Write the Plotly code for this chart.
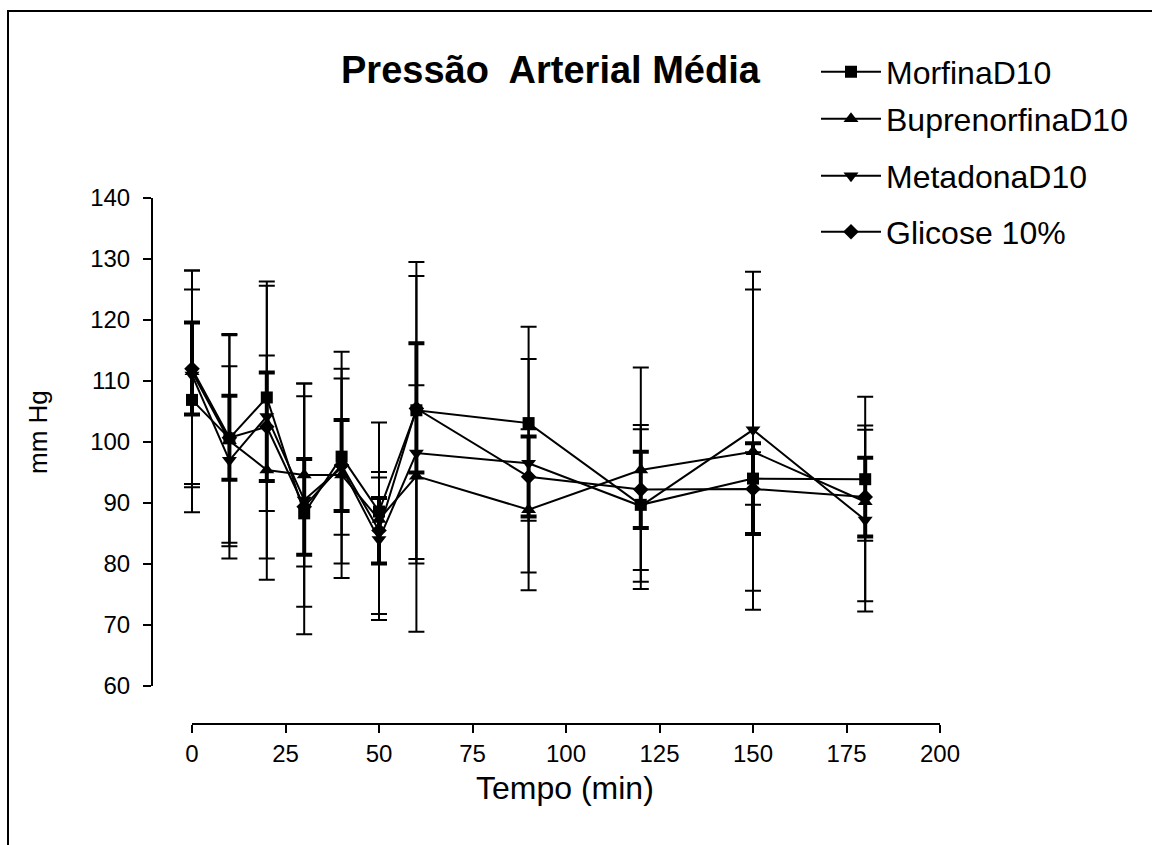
import plotly.graph_objects as go

W, H = 1152, 845
FONT = "Liberation Sans, Arial, sans-serif"

# Tempo de coleta (min)
tempo = [0, 10, 20, 30, 40, 50, 60, 90, 120, 150, 180]

# Pressão arterial média (mm Hg): média e desvio acima / abaixo da média
morfina = [106.9, 100.6, 107.3, 88.3, 97.6, 88.6, 105.2, 103.1, 89.7, 94.0, 93.9]
morfina_sup = [18.1, 17.1, 19.0, 19.2, 17.2, 14.6, 24.3, 15.8, 12.4, 4.3, 8.8]
morfina_inf = [18.4, 17.1, 18.6, 19.8, 17.5, 16.8, 24.4, 16.0, 12.6, 4.3, 10.1]

buprenorfina = [111.5, 100.2, 95.4, 94.6, 94.6, 87.3, 94.4, 88.9, 95.4, 98.4, 90.2]
buprenorfina_sup = [16.6, 17.3, 18.8, 15.0, 17.4, 7.8, 14.9, 13.2, 16.8, 26.6, 17.2]
buprenorfina_inf = [18.9, 17.3, 18.0, 15.0, 16.9, 7.3, 14.3, 13.2, 16.4, 25.9, 18.0]

metadona = [111.0, 97.0, 104.2, 90.5, 95.8, 84.0, 98.2, 96.5, 89.5, 102.0, 87.2]
metadona_sup = [17.1, 15.4, 21.4, 19.1, 14.6, 10.2, 29.0, 17.1, 13.3, 25.9, 14.8]
metadona_inf = [17.9, 16.1, 23.3, 17.5, 11.0, 13.2, 29.3, 17.9, 13.6, 26.4, 13.3]

glicose = [112.0, 100.7, 102.5, 89.4, 96.2, 85.5, 105.5, 94.3, 92.2, 92.3, 91.0]
glicose_sup = [7.6, 6.9, 8.9, 7.8, 7.4, 5.3, 10.7, 6.6, 6.2, 7.5, 6.4]
glicose_inf = [7.5, 6.9, 8.9, 7.9, 7.5, 5.4, 10.5, 6.5, 6.3, 7.4, 6.5]

x_ticks = [0, 25, 50, 75, 100, 125, 150, 175, 200]
y_ticks = [60, 70, 80, 90, 100, 110, 120, 130, 140]

X0_PX, X200_PX = 192, 940     # horizontal pixels of t = 0 and t = 200
PX_PER_MIN = (X200_PX - X0_PX) / 200.0
PAD_PX = 14                    # room on the left so the caps at t = 0 are not clipped
XAXIS_PX = 724                 # vertical pixel of the time axis line


def fx(p):
    """horizontal pixel -> paper fraction"""
    return p / W


def fy(p):
    """vertical pixel (from top) -> paper fraction"""
    return 1 - p / H


series = [
    # name, mean, up, down, symbol, size, error thickness, legend id
    ("BuprenorfinaD10", buprenorfina, buprenorfina_sup, buprenorfina_inf, "triangle-up", 13, 2, "legend2"),
    ("MetadonaD10", metadona, metadona_sup, metadona_inf, "triangle-down", 13, 2, "legend3"),
    ("Glicose 10%", glicose, glicose_sup, glicose_inf, "diamond", 12, 4, "legend4"),
    ("MorfinaD10", morfina, morfina_sup, morfina_inf, "square", 12, 2, "legend"),
]

fig = go.Figure()
for name, y, up, down, sym, size, thick, leg in series:
    fig.add_trace(go.Scatter(
        x=tempo, y=y, name=name, mode="lines+markers",
        line=dict(color="black", width=2),
        marker=dict(symbol=sym, size=size, color="black", line=dict(width=0)),
        error_y=dict(type="data", symmetric=False, array=up, arrayminus=down,
                     color="black", thickness=thick, width=8),
        cliponaxis=False,
        legend=leg,
    ))

leg_common = dict(xanchor="left", yanchor="middle", bgcolor="rgba(0,0,0,0)",
                  borderwidth=0, itemwidth=60,
                  font=dict(family=FONT, size=32, color="black"))
leg_rows = {"legend": 72, "legend2": 119, "legend3": 176, "legend4": 232}
legends = {k: dict(x=fx(816), y=fy(v), **leg_common) for k, v in leg_rows.items()}

tick_font = dict(family=FONT, size=24, color="black")
tick_style = dict(ticks="outside", ticklen=8, tickwidth=2, tickcolor="black",
                  showgrid=False, zeroline=False, tickfont=tick_font)

fig.update_layout(
    width=W, height=H,
    margin=dict(l=0, r=0, t=0, b=0, autoexpand=False),
    paper_bgcolor="white", plot_bgcolor="white",
    showlegend=True,
    font=dict(family=FONT, color="black"),
    title=dict(text="<b>Pressão  Arterial Média</b>", x=fx(341), xanchor="left",
               y=fy(70), yanchor="middle", font=dict(family=FONT, size=38, color="black")),
    xaxis=dict(domain=[fx(X0_PX - PAD_PX), fx(X200_PX)],
               range=[-PAD_PX / PX_PER_MIN, 200], anchor="free", position=fy(XAXIS_PX),
               tickvals=x_ticks, showline=False, ticklabelstandoff=0, **tick_style),
    yaxis=dict(domain=[fy(686), fy(198)], range=[60, 140], anchor="free", position=fx(152),
               tickvals=y_ticks, showline=True, linewidth=2, linecolor="black",
               ticklabelstandoff=8, **tick_style),
    annotations=[
        dict(text="Tempo (min)", xref="paper", yref="paper", x=fx(565), y=fy(788),
             xanchor="center", yanchor="middle", showarrow=False,
             font=dict(family=FONT, size=32, color="black")),
        dict(text="mm Hg", xref="paper", yref="paper", x=fx(38), y=fy(432),
             xanchor="center", yanchor="middle", showarrow=False, textangle=-90,
             font=dict(family=FONT, size=26, color="black")),
    ],
    shapes=[
        # outer frame
        dict(type="rect", xref="paper", yref="paper",
             x0=fx(8), x1=1.05, y0=-0.05, y1=fy(11),
             line=dict(color="black", width=2), layer="below"),
        # time axis line, spanning only the first to the last tick
        dict(type="line", xref="x", yref="paper",
             x0=x_ticks[0], x1=x_ticks[-1], y0=fy(XAXIS_PX), y1=fy(XAXIS_PX),
             line=dict(color="black", width=2), layer="above"),
    ],
    **legends,
)

fig.write_html("out.html")
